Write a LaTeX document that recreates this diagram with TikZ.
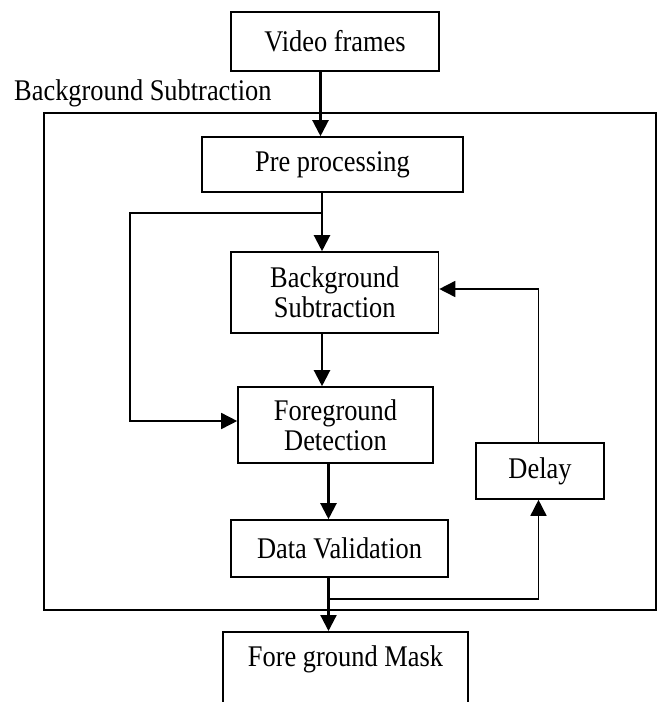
\documentclass[tikz,border=0pt]{standalone}
\usepackage{fontspec}
\setmainfont{Liberation Serif}[FakeStretch=0.88]
\usetikzlibrary{arrows.meta,calc}
\begin{document}
\begin{tikzpicture}[x=1pt,y=-1pt,
  txt/.style={font=\fontsize{30}{30}\selectfont},
  box/.style={draw, line width=1.6pt, inner sep=0pt, align=center, txt},
  arr/.style={line width=2.2pt, -{Triangle[length=16pt,width=16pt]}},
  tharr/.style={line width=1.6pt, -{Triangle[length=16pt,width=16pt]}},
  ]
\useasboundingbox (0,0) rectangle (658,702);
\clip (0,0) rectangle (658,702);
\node[box, minimum width=208pt, minimum height=59pt] (vf) at (335,41.5) {Video frames};
\node[txt, anchor=west, inner sep=0pt] (lbl) at (14,93) {Background Subtraction};
\node[draw, line width=1.6pt, minimum width=612pt, minimum height=497pt, inner sep=0pt] (outer) at (350,361.5) {};
\node[box, minimum width=261pt, minimum height=55pt] (pp) at (332.5,164.5) {Pre processing};
\node[box, minimum width=207.5pt, minimum height=81pt] (bs) at (334.75,292.5) {Background\\Subtraction};
\node[box, minimum width=195pt, minimum height=76pt] (fd) at (335.5,425) {Foreground\\Detection};
\node[box, minimum width=128pt, minimum height=56pt] (dl) at (540,471) {Delay};
\node[box, minimum width=217pt, minimum height=57pt] (dv) at (339.5,548.5) {Data Validation};
\node[box, anchor=north, minimum width=245pt, text height=22pt, text depth=60pt, inner ysep=13pt] (fm) at (345.5,631) {Fore ground Mask};
\coordinate (xa) at (320.5,0);
\coordinate (xb) at (322,0);
\coordinate (xl) at (130,0);
\coordinate (xc) at (328.5,0);
\coordinate (xr) at (538.5,0);
\coordinate (yb1) at (0,213);
\coordinate (yb2) at (0,599);
\coordinate (fdw) at ($(fd.west)+(0,-4)$);
\coordinate (bsr) at ($(bs.east)+(0,-3.5)$);
\draw[arr] (vf.south -| xa) -- (pp.north -| xa);
\draw[arr] (pp.south -| xb) -- (bs.north -| xb);
\draw[tharr] (xb |- yb1) -- (xl |- yb1) -- (xl |- fdw) -- (fdw);
\draw[arr] (bs.south -| xb) -- (fd.north -| xb);
\draw[arr] (fd.south -| xc) -- (dv.north -| xc);
\draw[arr] (dv.south -| xc) -- (fm.north -| xc);
\draw[tharr] (xc |- yb2) -- (xr |- yb2) -- (dl.south -| xr);
\draw[tharr] (dl.north -| xr) -- (xr |- bsr) -- (bsr);
\end{tikzpicture}
\end{document}
